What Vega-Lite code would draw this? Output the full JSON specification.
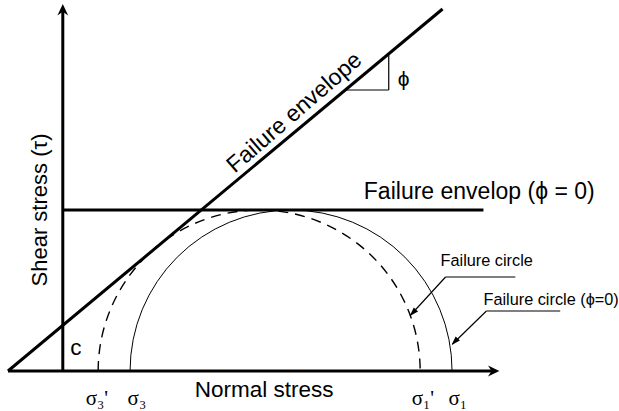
{
  "$schema": "https://vega.github.io/schema/vega-lite/v6.json",
  "width": 619,
  "height": 411,
  "autosize": {"type": "fit", "contains": "padding"},
  "padding": 0,
  "background": "white",
  "config": {"view": {"stroke": null}},
  "datasets": {
    "thick": [
      {"name": "shear axis", "u": 0, "v": 0, "u2": 0, "v2": 360},
      {"name": "normal axis", "u": -55, "v": 0, "u2": 431, "v2": 0},
      {"name": "failure envelope", "u": -55, "v": 0, "u2": 381, "v2": 362},
      {"name": "failure envelope phi=0", "u": 0, "v": 161, "u2": 422, "v2": 161}
    ],
    "thin": [
      {"name": "slope horizontal", "u": 283.6, "v": 281, "u2": 327, "v2": 281},
      {"name": "slope vertical", "u": 327, "v": 281, "u2": 327, "v2": 317},
      {"name": "circle label underline", "u": 384, "v": 94, "u2": 454, "v2": 94},
      {"name": "circle label leader", "u": 384, "v": 94, "u2": 349, "v2": 56},
      {"name": "circle phi0 label underline", "u": 425, "v": 60, "u2": 499, "v2": 60},
      {"name": "circle phi0 label leader", "u": 425, "v": 60, "u2": 391, "v2": 27}
    ],
    "circleDashed": [{"name": "Failure circle", "u": 197, "v": 0, "r": 161}],
    "circleSolid": [{"name": "Failure circle (phi=0)", "u": 229, "v": 0, "r": 161}],
    "arrowUp": [{"name": "shear axis tip", "u": 0, "v": 367}],
    "arrowRight": [{"name": "normal axis tip", "u": 438, "v": 0}],
    "arrowLeader": [
      {"name": "Failure circle", "u": 348, "v": 55},
      {"name": "Failure circle (phi=0)", "u": 390, "v": 26}
    ],
    "bigText": [
      {"t": "Normal stress", "u": 202, "v": -26},
      {"t": "c", "u": 13, "v": 16}
    ],
    "phiText": [{"t": "ϕ", "u": 342, "v": 285}],
    "envText0": [{"t": "Failure envelop (ϕ = 0)", "u": 302, "v": 172}],
    "envText": [{"t": "Failure envelope", "u": 237, "v": 253}],
    "shearText": [{"t": "Shear stress (τ)", "u": -23, "v": 161}],
    "smallText": [
      {"t": "Failure circle", "u": 379, "v": 105},
      {"t": "Failure circle (ϕ=0)", "u": 422, "v": 66}
    ],
    "sigmaText": [
      {"t": "σ₃'", "u": 23, "v": -34},
      {"t": "σ₃", "u": 65, "v": -34},
      {"t": "σ₁'", "u": 350, "v": -34},
      {"t": "σ₁", "u": 387, "v": -34}
    ]
  },
  "encoding": {
    "x": {"field": "u", "type": "quantitative", "scale": {"domain": [-63, 556], "nice": false, "zero": false}, "axis": null},
    "y": {"field": "v", "type": "quantitative", "scale": {"domain": [-40, 371], "nice": false, "zero": false}, "axis": null}
  },
  "layer": [
    {
      "data": {"name": "circleDashed"},
      "mark": {"type": "arc", "filled": false, "color": "black", "strokeWidth": 1.4, "strokeDash": [10, 7], "theta": -1.5708, "theta2": 1.5708},
      "encoding": {"radius": {"field": "r", "type": "quantitative", "scale": {"type": "linear", "domain": [0, 100], "range": [0, 100]}}}
    },
    {
      "data": {"name": "circleSolid"},
      "mark": {"type": "arc", "filled": false, "color": "black", "strokeWidth": 1, "theta": -1.5708, "theta2": 1.5708},
      "encoding": {"radius": {"field": "r", "type": "quantitative", "scale": {"type": "linear", "domain": [0, 100], "range": [0, 100]}}}
    },
    {
      "data": {"name": "thick"},
      "mark": {"type": "rule", "color": "black", "strokeWidth": 3},
      "encoding": {"x2": {"field": "u2"}, "y2": {"field": "v2"}}
    },
    {
      "data": {"name": "thin"},
      "mark": {"type": "rule", "color": "black", "strokeWidth": 1.2},
      "encoding": {"x2": {"field": "u2"}, "y2": {"field": "v2"}}
    },
    {
      "data": {"name": "arrowUp"},
      "mark": {"type": "point", "filled": true, "color": "black", "opacity": 1, "size": 144, "shape": "M0,0 L0.9,1.9 L0,1.3 L-0.9,1.9 Z", "angle": 0}
    },
    {
      "data": {"name": "arrowRight"},
      "mark": {"type": "point", "filled": true, "color": "black", "opacity": 1, "size": 144, "shape": "M0,0 L0.9,1.9 L0,1.3 L-0.9,1.9 Z", "angle": 90}
    },
    {
      "data": {"name": "arrowLeader"},
      "mark": {"type": "point", "filled": true, "color": "black", "opacity": 1, "size": 100, "shape": "M0,0 L0.6,1.8 L-0.6,1.8 Z", "angle": 224}
    },
    {
      "data": {"name": "bigText"},
      "mark": {"type": "text", "font": "Liberation Sans", "fontSize": 22.5, "align": "center", "baseline": "alphabetic", "color": "black"},
      "encoding": {"text": {"field": "t"}}
    },
    {
      "data": {"name": "phiText"},
      "mark": {"type": "text", "font": "Liberation Sans", "fontSize": 21, "align": "center", "baseline": "alphabetic", "color": "black"},
      "encoding": {"text": {"field": "t"}}
    },
    {
      "data": {"name": "envText0"},
      "mark": {"type": "text", "font": "Liberation Sans", "fontSize": 23, "align": "left", "baseline": "alphabetic", "color": "black"},
      "encoding": {"text": {"field": "t"}}
    },
    {
      "data": {"name": "envText"},
      "mark": {"type": "text", "font": "Liberation Sans", "fontSize": 23, "align": "center", "baseline": "alphabetic", "angle": 319, "color": "black"},
      "encoding": {"text": {"field": "t"}}
    },
    {
      "data": {"name": "shearText"},
      "mark": {"type": "text", "font": "Liberation Sans", "fontSize": 22, "align": "center", "baseline": "middle", "angle": 270, "color": "black"},
      "encoding": {"text": {"field": "t"}}
    },
    {
      "data": {"name": "smallText"},
      "mark": {"type": "text", "font": "Liberation Sans", "fontSize": 16.3, "align": "left", "baseline": "alphabetic", "color": "black"},
      "encoding": {"text": {"field": "t"}}
    },
    {
      "data": {"name": "sigmaText"},
      "mark": {"type": "text", "font": "Liberation Serif", "fontSize": 21, "align": "left", "baseline": "alphabetic", "color": "black"},
      "encoding": {"text": {"field": "t"}}
    }
  ]
}
